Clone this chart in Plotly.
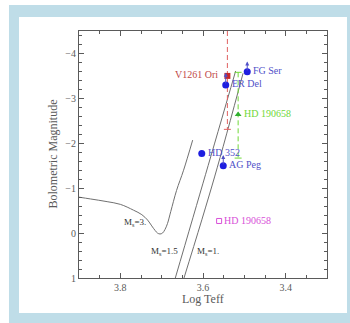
import plotly.graph_objects as go

# ---------------- data ----------------
m3_teff = [3.9, 3.872, 3.832, 3.8, 3.768, 3.748, 3.734, 3.724, 3.716, 3.710, 3.704, 3.698, 3.692, 3.686, 3.678, 3.664, 3.647, 3.625]
m3_mbol = [-0.80, -0.76, -0.70, -0.64, -0.51, -0.41, -0.29, -0.16, -0.06, 0.00, 0.02, 0.00, -0.08, -0.21, -0.48, -0.95, -1.40, -2.07]

m15_teff = [3.667, 3.594, 3.521]
m15_mbol = [1.0, -1.30, -3.61]

m1_teff = [3.646, 3.572, 3.503]
m1_mbol = [1.0, -1.25, -3.56]

blue_names = ["ER Del", "FG Ser", "HD 352", "AG Peg"]
blue_teff = [3.545, 3.493, 3.603, 3.551]
blue_mbol = [-3.30, -3.59, -1.77, -1.50]

arrow_names = ["ER Del", "FG Ser", "AG Peg"]
arrow_teff = [3.545, 3.493, 3.551]
arrow_from = [-3.30, -3.59, -1.50]
arrow_to = [-3.57, -3.82, -1.74]

red_name = "V1261 Ori"
red_teff = 3.541
red_mbol = -3.50
red_range = [-4.5, -2.31]

green_name = "HD 190658"
green_teff = 3.515
green_mbol = -2.64
green_range = [-3.58, -1.67]

mag_name = "HD 190658"
mag_teff = 3.561
mag_mbol = -0.27

track_labels = ["M<sub>s</sub>=3.", "M<sub>s</sub>=1.5", "M<sub>s</sub>=1."]
track_label_teff = [3.795, 3.730, 3.619]
track_label_mbol = [-0.23, 0.42, 0.42]

x_ticks = [3.8, 3.6, 3.4]
y_ticks = [-4, -3, -2, -1, 0, 1]

# ---------------- styles ----------------
FONT = "Liberation Serif"
GRAY = "#5a5a5a"
LINE = "#707070"
BLUE = "#1e1ee0"
BLUE_TXT = "#5050c8"
RED = "#c82828"
RED_TXT = "#c04848"
GREEN = "#70d838"
MAG = "#d850d8"
FRAME = "#bfdde8"

fig = go.Figure()

for tx, ty in [(m3_teff, m3_mbol), (m15_teff, m15_mbol), (m1_teff, m1_mbol)]:
    fig.add_trace(go.Scatter(x=tx, y=ty, mode="lines", line=dict(color=LINE, width=1, shape="spline", smoothing=1),
                             hoverinfo="skip", showlegend=False))

# red dashed range
fig.add_trace(go.Scatter(x=[red_teff, red_teff], y=red_range, mode="lines",
                         line=dict(color="#e06060", width=1, dash="5px,3px"), showlegend=False))
fig.add_trace(go.Scatter(x=[red_teff], y=[red_range[1]], mode="markers",
                         marker=dict(symbol="line-ew", size=5, line=dict(color="#e06060", width=1)), showlegend=False))
# green dashed range
fig.add_trace(go.Scatter(x=[green_teff, green_teff], y=green_range, mode="lines",
                         line=dict(color=GREEN, width=1, dash="5px,3px"), showlegend=False))
fig.add_trace(go.Scatter(x=[green_teff, green_teff], y=green_range, mode="markers",
                         marker=dict(symbol="line-ew", size=5, line=dict(color=GREEN, width=1)), showlegend=False))

# points
fig.add_trace(go.Scatter(x=blue_teff, y=blue_mbol, mode="markers",
                         marker=dict(symbol="circle", size=7, color=BLUE), showlegend=False))
fig.add_trace(go.Scatter(x=[red_teff], y=[red_mbol], mode="markers",
                         marker=dict(symbol="square", size=6, color=RED), showlegend=False))
fig.add_trace(go.Scatter(x=[green_teff], y=[green_mbol], mode="markers",
                         marker=dict(symbol="triangle-up", size=6, color="#30b030"), showlegend=False))
fig.add_trace(go.Scatter(x=[mag_teff], y=[mag_mbol], mode="markers",
                         marker=dict(symbol="square-open", size=5, color=MAG, line=dict(width=1)), showlegend=False))

ann = []
# arrows
for ax_, y0, y1 in zip(arrow_teff, arrow_from, arrow_to):
    ann.append(dict(x=ax_, y=y1, ax=ax_, ay=y0, xref="x", yref="y", axref="x", ayref="y",
                    showarrow=True, arrowhead=2, arrowsize=0.8, arrowwidth=1, arrowcolor=BLUE_TXT,
                    standoff=0, startstandoff=0, text=""))
# labels
for n, x, y in zip(blue_names, blue_teff, blue_mbol):
    ann.append(dict(x=x, y=y, text=n, showarrow=False, xanchor="left", xshift=4, yshift=1.5,
                    font=dict(family=FONT, size=10, color=BLUE_TXT)))
ann.append(dict(x=red_teff, y=red_mbol, text=red_name, showarrow=False, xanchor="right", xshift=-7, yshift=1.5,
                font=dict(family=FONT, size=10, color=RED_TXT)))
ann.append(dict(x=green_teff, y=green_mbol, text=green_name, showarrow=False, xanchor="left", xshift=4, yshift=1,
                font=dict(family=FONT, size=10, color=GREEN)))
ann.append(dict(x=mag_teff, y=mag_mbol, text=mag_name, showarrow=False, xanchor="left", xshift=3, yshift=0.5,
                font=dict(family=FONT, size=10, color=MAG)))
for t, x, y in zip(track_labels, track_label_teff, track_label_mbol):
    ann.append(dict(x=x, y=y, text=t, showarrow=False, xanchor="left",
                    font=dict(family=FONT, size=9, color="#333333")))
# axis titles
ann.append(dict(x=0.5, y=0, xref="paper", yref="paper", text="Log Teff", showarrow=False,
                yanchor="middle", yshift=-21, font=dict(family=FONT, size=12, color=GRAY)))
ann.append(dict(x=0, y=0.5, xref="paper", yref="paper", text="Bolometric Magnitude", showarrow=False,
                xanchor="center", xshift=-27, textangle=-90, font=dict(family=FONT, size=12, color=GRAY)))

axis_common = dict(showgrid=False, zeroline=False, showline=True, linecolor=GRAY, linewidth=1,
                   mirror="allticks", ticks="inside", ticklen=5, tickcolor=GRAY, tickwidth=1,
                   tickfont=dict(family=FONT, size=10, color=GRAY))

fig.update_layout(
    width=350, height=323,
    margin=dict(l=79, r=23, t=31, b=45),
    paper_bgcolor="white", plot_bgcolor="white",
    xaxis=dict(range=[3.9, 3.3], tickvals=x_ticks, ticktext=[f"{v:.1f}" for v in x_ticks],
               minor=dict(dtick=0.05, tick0=3.3, ticks="inside", ticklen=3, tickcolor=GRAY), **axis_common),
    yaxis=dict(range=[1, -4.5], tickvals=y_ticks,
               minor=dict(dtick=0.2, tick0=0, ticks="inside", ticklen=3, tickcolor=GRAY), **axis_common),
    annotations=ann,
    shapes=[
        dict(type="rect", xref="paper", yref="paper", x0=-0.2823, x1=1.0927, y0=-0.1822, y1=1.1053,
             fillcolor=FRAME, line=dict(width=0), layer="below"),
        dict(type="rect", xref="paper", yref="paper", x0=-0.2419, x1=1.0806, y0=-0.1417, y1=1.0567,
             fillcolor="white", line=dict(width=0), layer="below"),
    ],
)

fig.write_html("out.html", config={"displayModeBar": False},
               post_script="document.body.style.margin='0';document.body.style.padding='0';")
